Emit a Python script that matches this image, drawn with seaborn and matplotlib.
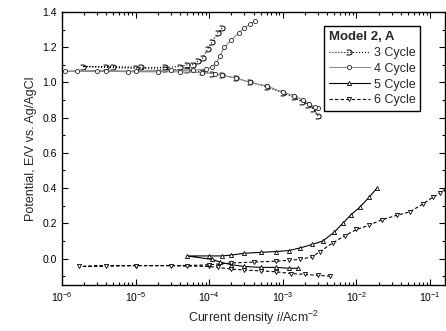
import numpy as np
import pandas as pd
import matplotlib
matplotlib.use("Agg")
import matplotlib.pyplot as plt
import matplotlib.ticker as mticker
import seaborn as sns

# Data (current density A/cm2, potential V)
cyc3_i = [3.0e-3, 2.6e-3, 2.2e-3, 1.8e-3, 1.4e-3, 1.0e-3, 6e-4, 3.6e-4, 2.3e-4, 1.5e-4,
          1.1e-4, 8e-5, 5e-5, 2.5e-5, 1e-5, 4e-6, 1.9e-6, 5e-6, 1.2e-5, 2.5e-5, 4e-5,
          5e-5, 6e-5, 7e-5, 8.2e-5, 9.5e-5, 1.1e-4, 1.3e-4, 1.5e-4]
cyc3_E = [0.81, 0.85, 0.87, 0.89, 0.915, 0.94, 0.975, 1.0, 1.025, 1.04,
          1.05, 1.06, 1.07, 1.075, 1.08, 1.085, 1.09, 1.09, 1.085, 1.085, 1.09,
          1.10, 1.10, 1.12, 1.14, 1.19, 1.23, 1.28, 1.31]

cyc4_i = [3.0e-3, 2.7e-3, 2.3e-3, 1.9e-3, 1.4e-3, 1.0e-3, 6e-4, 3.6e-4, 2.3e-4, 1.5e-4,
          1.2e-4, 8e-5, 4e-5, 2e-5, 8e-6, 4e-6, 1.6e-6, 1.1e-6, 3e-6, 1e-5, 3e-5,
          6e-5, 9e-5, 1.1e-4, 1.25e-4, 1.4e-4, 1.6e-4, 2e-4, 2.5e-4, 3e-4, 3.6e-4, 4.2e-4]
cyc4_E = [0.855, 0.86, 0.88, 0.90, 0.925, 0.945, 0.98, 1.0, 1.025, 1.04,
          1.05, 1.055, 1.06, 1.06, 1.06, 1.065, 1.063, 1.063, 1.065, 1.065, 1.068,
          1.07, 1.075, 1.09, 1.11, 1.15, 1.2, 1.24, 1.28, 1.31, 1.33, 1.35]

cyc5_i = [1.6e-3, 1.2e-3, 8e-4, 5e-4, 3e-4, 2e-4, 1.4e-4, 1.1e-4, 5e-5, 1e-4,
          1.5e-4, 2e-4, 3e-4, 5e-4, 8e-4, 1.2e-3, 1.7e-3, 2.5e-3, 3.5e-3, 5e-3,
          6.5e-3, 8.5e-3, 1.1e-2, 1.5e-2, 1.9e-2]
cyc5_E = [-0.055, -0.055, -0.05, -0.05, -0.045, -0.035, -0.02, -0.005, 0.015, 0.015,
          0.015, 0.02, 0.03, 0.035, 0.04, 0.045, 0.06, 0.08, 0.10, 0.15,
          0.20, 0.25, 0.29, 0.35, 0.40]

cyc6_i = [4.4e-3, 3e-3, 2e-3, 1.3e-3, 8e-4, 5e-4, 3e-4, 2e-4, 1.3e-4, 1e-4,
          3e-5, 1e-5, 4e-6, 1.7e-6, 1e-5, 5e-5, 1e-4, 2e-4, 4e-4, 8e-4,
          1.2e-3, 1.7e-3, 2.5e-3, 3.2e-3, 4.8e-3, 7e-3, 1e-2, 1.5e-2, 2.2e-2, 3.5e-2,
          5.3e-2, 8e-2, 1.1e-1, 1.35e-1, 1.6e-1]
cyc6_E = [-0.10, -0.095, -0.09, -0.085, -0.075, -0.07, -0.065, -0.06, -0.05, -0.045,
          -0.04, -0.04, -0.04, -0.045, -0.04, -0.04, -0.035, -0.025, -0.02, -0.015,
          -0.01, -0.005, 0.01, 0.04, 0.09, 0.13, 0.165, 0.19, 0.22, 0.245,
          0.265, 0.31, 0.35, 0.37, 0.39]

labels = ["3 Cycle", "4 Cycle", "5 Cycle", "6 Cycle"]

sns.set_style("ticks")
plt.rcParams["font.family"] = ["Liberation Sans", "DejaVu Sans"]
plt.rcParams["mathtext.fontset"] = "custom"
plt.rcParams["mathtext.rm"] = "Liberation Sans"
plt.rcParams["mathtext.it"] = "Liberation Sans:italic"

fig = plt.figure(figsize=(4.46, 3.31), dpi=100)
ax = fig.add_axes([0.139, 0.139, 0.859, 0.825])

styles = [
    dict(color="black", linestyle=":", marker=r"$\supset$", markersize=4,
         markerfacecolor="black", markeredgecolor="black", markeredgewidth=0.3),
    dict(color="0.55", linestyle="-", marker="o", markersize=3,
         markerfacecolor="white", markeredgecolor="0.15", markeredgewidth=0.6),
    dict(color="black", linestyle="-", marker="^", markersize=3,
         markerfacecolor="white", markeredgecolor="black", markeredgewidth=0.6),
    dict(color="black", linestyle=(0, (3, 2)), marker="v", markersize=3,
         markerfacecolor="white", markeredgecolor="black", markeredgewidth=0.6),
]
series = [(cyc3_i, cyc3_E), (cyc4_i, cyc4_E), (cyc5_i, cyc5_E), (cyc6_i, cyc6_E)]

for (xi, yi), lab, st in zip(series, labels, styles):
    sns.lineplot(x=xi, y=yi, sort=False, estimator=None, ax=ax, label=lab,
                 linewidth=0.8, **st)

ax.set_xscale("log")
ax.set_xlim(1e-6, 0.16)
ax.set_ylim(-0.15, 1.4)
ax.yaxis.set_major_locator(mticker.MultipleLocator(0.2))
ax.yaxis.set_minor_locator(mticker.MultipleLocator(0.1))
ax.yaxis.set_major_formatter(mticker.FormatStrFormatter("%.1f"))
ax.xaxis.set_major_locator(mticker.LogLocator(base=10, numticks=10))
ax.xaxis.set_minor_locator(mticker.LogLocator(base=10, subs=np.arange(2, 10), numticks=20))
ax.xaxis.set_minor_formatter(mticker.NullFormatter())

ax.tick_params(which="both", direction="in", top=True, right=True, width=0.8,
               labelsize=7.5, colors="black")
ax.tick_params(which="major", length=4)
ax.tick_params(which="minor", length=2)
for sp in ax.spines.values():
    sp.set_linewidth(1.0)
    sp.set_color("black")

ax.set_xlabel(r"Current density $\it{i}$/Acm$^{-2}$", fontsize=9)
ax.set_ylabel("Potential, E/V vs. Ag/AgCl", fontsize=9)

leg = ax.legend(title="Model 2, A", loc="upper right", bbox_to_anchor=(0.952, 0.97),
                fontsize=9, title_fontproperties={"weight": "bold", "size": 9.5},
                frameon=True, fancybox=False, edgecolor="black", framealpha=1,
                handlelength=3.3, handletextpad=0.3, labelspacing=0.3,
                borderpad=0.4, alignment="left")
leg.get_frame().set_linewidth(1.0)

fig.savefig("out.png", dpi=100)
